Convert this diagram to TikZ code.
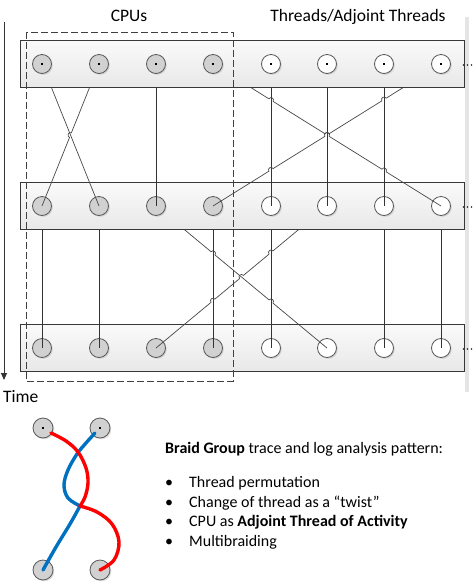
\documentclass[tikz,border=0pt]{standalone}
\usepackage{fontspec}
\setmainfont{Carlito}
\usetikzlibrary{calc,shadows,arrows.meta}
\definecolor{brblue}{RGB}{0,112,192}
\definecolor{brred}{RGB}{255,0,0}
\pgfdeclarelayer{la}
\pgfdeclarelayer{lb}
\pgfdeclarelayer{lc}
\pgfdeclarelayer{ld}
\pgfsetlayers{la,lb,lc,ld,main}
\begin{document}
\begin{tikzpicture}[x=1pt,y=-1pt,
 sh/.style={drop shadow={shadow xshift=1.3pt,shadow yshift=-1.3pt,fill=black!30,opacity=0.45}},
 cpu/.style={circle,draw=black!65,line width=0.8pt,fill=black!18,minimum size=19pt,inner sep=0pt,sh},
 thr/.style={cpu,fill=white},
 band/.style={rectangle,draw=black!78,line width=0.9pt,top color=black!2,bottom color=black!9,minimum width=444pt,minimum height=47pt,inner sep=0pt},
 vline/.style={draw=black!80,line width=0.9pt},
 dline/.style={draw=black!72,line width=0.7pt},
 hop/.style={bend left=90,looseness=1.7},
 hdr/.style={font=\fontsize{17.5}{20}\selectfont,anchor=base,inner sep=0pt},
 txt/.style={font=\fontsize{16}{18}\selectfont,anchor=base west,inner sep=0pt},
 edot/.style={circle,fill=black!85,inner sep=0pt,minimum size=1.6pt},
 dbox/.style={draw=black!75,line width=0.8pt,dash pattern=on 7pt off 3pt},
 braid/.style={line width=3.4pt,line cap=round,line join=round},
 axisline/.style={draw=black!80,line width=0.9pt,-{Triangle[width=6pt,length=7pt]}}
]
\useasboundingbox (0,0) rectangle (476,582);

% ---------- bottom row (layer la)
\begin{pgfonlayer}{la}
\fill[black!10] (465,17) rectangle (469,392);
\coordinate (ta) at (4,22);
\coordinate (tb) at (4,380);
\draw[axisline] (ta) -- (tb);
\node[band] (b3) at (242,348) {};
\foreach \n/\x in {c1/42,c2/99,c3/156,c4/213}
  \node[cpu] (\n b) at (\x,348) {};
\foreach \n/\x in {t1/271,t2/327,t3/384,t4/441}
  \node[thr] (\n b) at (\x,348) {};
\end{pgfonlayer}

% ---------- middle row (layer lc)
\begin{pgfonlayer}{lc}
\node[band] (b2) at (242,206) {};
\foreach \n/\x in {c1/42,c2/99,c3/156,c4/213}
  \node[cpu] (\n m) at (\x,206) {};
\foreach \n/\x in {t1/271,t2/327,t3/384,t4/441}
  \node[thr] (\n m) at (\x,206) {};
\end{pgfonlayer}

% ---------- top row (main)
\node[band] (b1) at (242,64) {};
\foreach \n/\x in {c1/42,c2/99,c3/156,c4/213}
  \node[cpu] (\n t) at (\x,64) {\rule{2.2pt}{2.2pt}};
\foreach \n/\x in {t1/271,t2/327,t3/384,t4/441}
  \node[thr] (\n t) at (\x,64) {\rule{2.2pt}{2.2pt}};

% ---------- continuation dots
\foreach \r/\y in {1/65,2/207,3/349}
  \foreach \i/\x in {a/463.5,b/467.5,c/471.5}
    \node[edot] (e\r\i) at (\x,\y) {};

% ---------- connectors middle -> bottom (layer lb)
\begin{pgfonlayer}{lb}
\foreach \n in {c1,c2,c4,t1,t3,t4}
  \draw[vline] (\n m.center) -- (\n b.center);
\coordinate (p1) at (intersection of c3m.center--t2b.center and c4m.center--c4b.center);
\coordinate (p2) at (intersection of c3m.center--t2b.center and t1m.center--t1b.center);
\coordinate (q1) at (intersection of c3b.center--t2m.center and c4m.center--c4b.center);
\coordinate (qx) at (intersection of c3b.center--t2m.center and c3m.center--t2b.center);
\coordinate (q2) at (intersection of c3b.center--t2m.center and t1m.center--t1b.center);
\draw[dline] (c3m.center)
  -- ($(p1)!2.5pt!(c3m.center)$) to[hop] ($(p1)!2.5pt!(t2b.center)$)
  -- ($(p2)!2.5pt!(c3m.center)$) to[hop] ($(p2)!2.5pt!(t2b.center)$)
  -- (t2b.center);
\draw[dline] (c3b.center)
  -- ($(q1)!2.5pt!(c3b.center)$) to[hop] ($(q1)!2.5pt!(t2m.center)$)
  -- ($(qx)!2.5pt!(c3b.center)$) to[hop] ($(qx)!2.5pt!(t2m.center)$)
  -- ($(q2)!2.5pt!(c3b.center)$) to[hop] ($(q2)!2.5pt!(t2m.center)$)
  -- (t2m.center);
\end{pgfonlayer}

% ---------- connectors top -> middle (layer ld)
\begin{pgfonlayer}{ld}
\foreach \n in {c3,t1,t2,t3}
  \draw[vline] (\n t.center) -- (\n m.center);
\draw[dline] (c1t.center) -- (c2m.center);
\coordinate (r0) at (intersection of c1m.center--c2t.center and c1t.center--c2m.center);
\draw[dline] (c1m.center)
  -- ($(r0)!2.5pt!(c1m.center)$) to[hop] ($(r0)!2.5pt!(c2t.center)$)
  -- (c2t.center);
\coordinate (s1) at (intersection of c4t.center--t4m.center and t1t.center--t1m.center);
\coordinate (s2) at (intersection of c4t.center--t4m.center and t2t.center--t2m.center);
\coordinate (s3) at (intersection of c4t.center--t4m.center and t3t.center--t3m.center);
\draw[dline] (c4t.center)
  -- ($(s1)!2.5pt!(c4t.center)$) to[hop] ($(s1)!2.5pt!(t4m.center)$)
  -- ($(s2)!2.5pt!(c4t.center)$) to[hop] ($(s2)!2.5pt!(t4m.center)$)
  -- ($(s3)!2.5pt!(c4t.center)$) to[hop] ($(s3)!2.5pt!(t4m.center)$)
  -- (t4m.center);
\coordinate (u1) at (intersection of c4m.center--t4t.center and t1t.center--t1m.center);
\coordinate (u2) at (intersection of c4m.center--t4t.center and t2t.center--t2m.center);
\coordinate (u3) at (intersection of c4m.center--t4t.center and t3t.center--t3m.center);
\draw[dline] (c4m.center)
  -- ($(u1)!2.5pt!(c4m.center)$) to[hop] ($(u1)!2.5pt!(t4t.center)$)
  -- ($(u2)!2.5pt!(c4m.center)$) to[hop] ($(u2)!2.5pt!(t4t.center)$)
  -- ($(u3)!2.5pt!(c4m.center)$) to[hop] ($(u3)!2.5pt!(t4t.center)$)
  -- (t4t.center);
\end{pgfonlayer}

% ---------- CPU group frame and headings
\draw[dbox] (26,32) rectangle (233,381);
\node[hdr] (hcpu) at (129,21) {CPUs};
\node[hdr] (hthr) at (358,21) {Threads/Adjoint Threads};
\node[hdr,anchor=base west] (htime) at (3,402) {Time};

% ---------- braid sketch
\node[cpu,minimum size=20pt] (k1) at (43,428) {\rule{2.2pt}{2.2pt}};
\node[cpu,minimum size=20pt] (k2) at (100,428) {\rule{2.2pt}{2.2pt}};
\node[cpu,minimum size=20pt] (k3) at (43,570) {};
\node[cpu,minimum size=20pt] (k4) at (100,570) {};
\draw[braid,brblue] plot[smooth,tension=0.6] coordinates {(95,433) (86,443) (77,454) (68,470) (64,485) (68,498) (80,506)};
\draw[braid,brblue] plot[smooth,tension=0.6] coordinates {(80,506) (70,524) (56,547) (43,570)};
\draw[braid,brred] plot[smooth,tension=0.6] coordinates {(51,433) (66,441) (78,452) (86,468) (88,483) (85,497) (80,506)};
\draw[braid,brred] plot[smooth,tension=0.6] coordinates {(80,506) (97,512) (112,524) (119,542) (114,560) (100,570)};

% ---------- text block
\node[txt] (l0) at (165,453) {\textbf{Braid Group} trace and log analysis pattern:};
\node[txt] (bu1) at (165,487) {•};
\node[txt] (bu2) at (165,507) {•};
\node[txt] (bu3) at (165,526) {•};
\node[txt] (bu4) at (165,546) {•};
\node[txt] (l1) at (189,487) {Thread permutation};
\node[txt] (l2) at (189,507) {Change of thread as a “twist”};
\node[txt] (l3) at (189,526) {CPU as \textbf{Adjoint Thread of Activity}};
\node[txt] (l4) at (189,546) {Multibraiding};
\end{tikzpicture}
\end{document}
